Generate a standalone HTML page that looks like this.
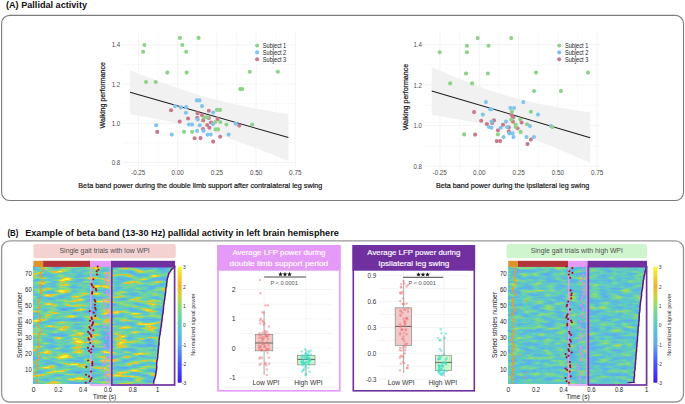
<!DOCTYPE html>
<html><head><meta charset="utf-8"><title>Pallidal activity figure</title>
<style>
html,body{margin:0;padding:0;background:#fff;}
body{width:685px;height:404px;overflow:hidden;}
svg{display:block;font-family:"Liberation Sans", sans-serif;}
</style></head><body>
<svg width="685" height="404" viewBox="0 0 685 404">
<text x="6" y="8.4" font-size="9.0" fill="#111" text-anchor="start" font-weight="700" textLength="81" lengthAdjust="spacingAndGlyphs" >(A) Pallidal activity</text>
<rect x="1.6" y="15.4" width="681.9" height="185.1" rx="8" ry="8" fill="none" stroke="#7c7c7c" stroke-width="1.1"/>
<path d="M158.10 31.8V167.5M197.30 31.8V167.5M236.50 31.8V167.5M275.70 31.8V167.5M122.3 142.90H297M122.3 103.70H297M122.3 64.50H297" stroke="#f3f3f3" stroke-width="0.5" fill="none"/>
<path d="M138.50 31.8V167.5M177.70 31.8V167.5M216.90 31.8V167.5M256.10 31.8V167.5M295.30 31.8V167.5M122.3 162.50H297M122.3 123.30H297M122.3 84.10H297M122.3 44.90H297" stroke="#ebebeb" stroke-width="0.6" fill="none"/>
<polygon points="130.0,70.3 135.3,72.4 140.6,74.5 145.8,76.6 151.1,78.6 156.4,80.6 161.7,82.6 167.0,84.5 172.2,86.3 177.5,88.1 182.8,89.9 188.1,91.6 193.4,93.3 198.6,94.9 203.9,96.4 209.2,97.9 214.5,99.3 219.8,100.6 225.0,101.9 230.3,103.2 235.6,104.4 240.9,105.5 246.2,106.6 251.4,107.7 256.7,108.7 262.0,109.7 267.3,110.6 272.6,111.5 277.8,112.4 283.1,113.3 288.4,114.1 288.4,161.1 283.1,158.9 277.8,156.7 272.6,154.6 267.3,152.5 262.0,150.4 256.7,148.3 251.4,146.3 246.2,144.4 240.9,142.4 235.6,140.6 230.3,138.7 225.0,136.9 219.8,135.2 214.5,133.6 209.2,131.9 203.9,130.4 198.6,128.9 193.4,127.5 188.1,126.1 182.8,124.8 177.5,123.5 172.2,122.3 167.0,121.1 161.7,120.0 156.4,118.9 151.1,117.9 145.8,116.9 140.6,115.9 135.3,115.0 130.0,114.1" fill="#f1f1f1"/>
<line x1="130" y1="92.2" x2="288.4" y2="137.6" stroke="#1c1c1c" stroke-width="1.05"/>
<g fill="#c77a8e"><circle cx="171" cy="110.2" r="2.05"/><circle cx="208.8" cy="110.7" r="2.05"/><circle cx="197.6" cy="113.3" r="2.05"/><circle cx="202" cy="115.1" r="2.05"/><circle cx="188.1" cy="118.5" r="2.05"/><circle cx="197.3" cy="117.9" r="2.05"/><circle cx="203.2" cy="120.4" r="2.05"/><circle cx="208.8" cy="117.9" r="2.05"/><circle cx="217.5" cy="119.1" r="2.05"/><circle cx="179.7" cy="121.6" r="2.05"/><circle cx="211" cy="122.5" r="2.05"/><circle cx="207.2" cy="125" r="2.05"/><circle cx="209.4" cy="127.8" r="2.05"/><circle cx="203" cy="129" r="2.05"/><circle cx="157.2" cy="131.9" r="2.05"/><circle cx="220.2" cy="136.7" r="2.05"/><circle cx="194.6" cy="138.3" r="2.05"/><circle cx="200.5" cy="138.1" r="2.05"/><circle cx="213.2" cy="141.6" r="2.05"/><circle cx="239.2" cy="125.6" r="2.05"/></g>
<g fill="#80c4ee"><circle cx="196.8" cy="100.4" r="2.05"/><circle cx="199.5" cy="100.4" r="2.05"/><circle cx="175" cy="106.1" r="2.05"/><circle cx="180.7" cy="107.4" r="2.05"/><circle cx="186.2" cy="107.1" r="2.05"/><circle cx="202" cy="106.1" r="2.05"/><circle cx="185.9" cy="112.7" r="2.05"/><circle cx="213.2" cy="112.6" r="2.05"/><circle cx="197.7" cy="119.5" r="2.05"/><circle cx="156.2" cy="125.2" r="2.05"/><circle cx="189" cy="124.5" r="2.05"/><circle cx="192.1" cy="124.5" r="2.05"/><circle cx="199.8" cy="125.2" r="2.05"/><circle cx="212.9" cy="124.1" r="2.05"/><circle cx="197.1" cy="130.9" r="2.05"/><circle cx="203.5" cy="130.9" r="2.05"/><circle cx="171.7" cy="134.6" r="2.05"/><circle cx="207.6" cy="134.6" r="2.05"/><circle cx="210.7" cy="134.6" r="2.05"/><circle cx="228.6" cy="134.6" r="2.05"/><circle cx="235.7" cy="123.7" r="2.05"/></g>
<g fill="#8fd08a"><circle cx="179.9" cy="37.9" r="2.05"/><circle cx="198.6" cy="37.9" r="2.05"/><circle cx="144.4" cy="45" r="2.05"/><circle cx="182.3" cy="45" r="2.05"/><circle cx="143.1" cy="51.8" r="2.05"/><circle cx="186.2" cy="51.8" r="2.05"/><circle cx="167.3" cy="72.6" r="2.05"/><circle cx="186.7" cy="72.6" r="2.05"/><circle cx="249.8" cy="71.8" r="2.05"/><circle cx="277.9" cy="71.8" r="2.05"/><circle cx="146" cy="82" r="2.05"/><circle cx="155.7" cy="82" r="2.05"/><circle cx="240.3" cy="89.1" r="2.05"/><circle cx="242.2" cy="89.1" r="2.05"/><circle cx="216.9" cy="109.9" r="2.05"/><circle cx="220" cy="109.9" r="2.05"/><circle cx="204.5" cy="117.4" r="2.05"/><circle cx="207.6" cy="117.4" r="2.05"/><circle cx="215.4" cy="122" r="2.05"/><circle cx="220.3" cy="122" r="2.05"/><circle cx="226.4" cy="124.5" r="2.05"/><circle cx="184" cy="131.7" r="2.05"/><circle cx="192.1" cy="131.7" r="2.05"/><circle cx="215.6" cy="129.4" r="2.05"/><circle cx="218.1" cy="129.4" r="2.05"/><circle cx="252.2" cy="124.5" r="2.05"/></g>
<text x="120.2" y="164.95" font-size="6.9" fill="#4d4d4d" text-anchor="end" textLength="8.5" lengthAdjust="spacingAndGlyphs" >0.8</text>
<text x="120.2" y="125.75" font-size="6.9" fill="#4d4d4d" text-anchor="end" textLength="8.5" lengthAdjust="spacingAndGlyphs" >1.0</text>
<text x="120.2" y="86.55000000000001" font-size="6.9" fill="#4d4d4d" text-anchor="end" textLength="8.5" lengthAdjust="spacingAndGlyphs" >1.2</text>
<text x="120.2" y="47.35000000000002" font-size="6.9" fill="#4d4d4d" text-anchor="end" textLength="8.5" lengthAdjust="spacingAndGlyphs" >1.4</text>
<text x="138.2" y="174.9" font-size="6.9" fill="#4d4d4d" text-anchor="middle" textLength="14.2" lengthAdjust="spacingAndGlyphs" >-0.25</text>
<text x="177.7" y="174.9" font-size="6.9" fill="#4d4d4d" text-anchor="middle" textLength="12.4" lengthAdjust="spacingAndGlyphs" >0.00</text>
<text x="216.89999999999998" y="174.9" font-size="6.9" fill="#4d4d4d" text-anchor="middle" textLength="12.4" lengthAdjust="spacingAndGlyphs" >0.25</text>
<text x="256.1" y="174.9" font-size="6.9" fill="#4d4d4d" text-anchor="middle" textLength="12.4" lengthAdjust="spacingAndGlyphs" >0.50</text>
<text x="295.3" y="174.9" font-size="6.9" fill="#4d4d4d" text-anchor="middle" textLength="12.4" lengthAdjust="spacingAndGlyphs" >0.75</text>
<text x="78.3" y="188.0" font-size="7.8" fill="#1a1a1a" text-anchor="start" stroke="#1a1a1a" stroke-width="0.22" textLength="244" lengthAdjust="spacingAndGlyphs" >Beta band power during the double limb support after contralateral leg swing</text>
<text x="104.8" y="95.2" font-size="7.1" fill="#1a1a1a" text-anchor="middle" stroke="#1a1a1a" stroke-width="0.22" textLength="66.4" lengthAdjust="spacingAndGlyphs" transform="rotate(-90 104.8 95.2)" >Walking performance</text>
<rect x="253.50000000000003" y="41.8" width="33.6" height="21" fill="#fff"/>
<circle cx="257.1" cy="45.5" r="2.05" fill="#8fd08a"/>
<text x="262.8" y="47.95" font-size="6.8" fill="#1a1a1a" text-anchor="start" textLength="23.4" lengthAdjust="spacingAndGlyphs" >Subject 1</text>
<circle cx="257.1" cy="52.4" r="2.05" fill="#80c4ee"/>
<text x="262.8" y="54.85" font-size="6.8" fill="#1a1a1a" text-anchor="start" textLength="23.4" lengthAdjust="spacingAndGlyphs" >Subject 2</text>
<circle cx="257.1" cy="59.3" r="2.05" fill="#c77a8e"/>
<text x="262.8" y="61.75" font-size="6.8" fill="#1a1a1a" text-anchor="start" textLength="23.4" lengthAdjust="spacingAndGlyphs" >Subject 3</text>
<path d="M459.65 31.8V171.5M498.95 31.8V171.5M538.25 31.8V171.5M577.55 31.8V171.5M423.5 145.85H600M423.5 105.35H600M423.5 64.85H600" stroke="#f3f3f3" stroke-width="0.5" fill="none"/>
<path d="M440.00 31.8V171.5M479.30 31.8V171.5M518.60 31.8V171.5M557.90 31.8V171.5M597.20 31.8V171.5M423.5 166.10H600M423.5 125.60H600M423.5 85.10H600M423.5 44.60H600" stroke="#ebebeb" stroke-width="0.6" fill="none"/>
<polygon points="431.7,67.0 437.0,69.3 442.3,71.6 447.6,73.9 452.8,76.1 458.1,78.3 463.4,80.4 468.7,82.5 474.0,84.5 479.2,86.5 484.5,88.4 489.8,90.2 495.1,92.0 500.4,93.7 505.7,95.3 511.0,96.8 516.2,98.3 521.5,99.7 526.8,101.0 532.1,102.2 537.4,103.4 542.7,104.5 547.9,105.6 553.2,106.6 558.5,107.5 563.8,108.5 569.1,109.3 574.4,110.1 579.6,110.9 584.9,111.7 590.2,112.4 590.2,163.0 584.9,160.6 579.6,158.2 574.4,155.9 569.1,153.6 563.8,151.4 558.5,149.2 553.2,147.0 547.9,144.9 542.7,142.8 537.4,140.8 532.1,138.9 526.8,137.0 521.5,135.2 516.2,133.5 511.0,131.9 505.7,130.3 500.4,128.8 495.1,127.4 489.8,126.0 484.5,124.7 479.2,123.5 474.0,122.4 468.7,121.3 463.4,120.3 458.1,119.3 452.8,118.4 447.6,117.5 442.3,116.6 437.0,115.8 431.7,115.0" fill="#f1f1f1"/>
<line x1="431.7" y1="91" x2="590.2" y2="137.7" stroke="#1c1c1c" stroke-width="1.05"/>
<g fill="#c77a8e"><circle cx="474.1" cy="112.1" r="2.05"/><circle cx="481.2" cy="120.8" r="2.05"/><circle cx="494" cy="120.4" r="2.05"/><circle cx="492.1" cy="122.9" r="2.05"/><circle cx="486.9" cy="124.1" r="2.05"/><circle cx="503" cy="124.7" r="2.05"/><circle cx="511.7" cy="115.1" r="2.05"/><circle cx="513.2" cy="117.3" r="2.05"/><circle cx="512.9" cy="121.6" r="2.05"/><circle cx="521.6" cy="122.5" r="2.05"/><circle cx="508.8" cy="127.4" r="2.05"/><circle cx="517.5" cy="128.2" r="2.05"/><circle cx="497.9" cy="130.3" r="2.05"/><circle cx="508.8" cy="131.5" r="2.05"/><circle cx="475.1" cy="134.6" r="2.05"/><circle cx="496.8" cy="141.1" r="2.05"/><circle cx="500.2" cy="141.1" r="2.05"/><circle cx="527.5" cy="144.1" r="2.05"/><circle cx="530.9" cy="139.6" r="2.05"/></g>
<g fill="#80c4ee"><circle cx="485.9" cy="102.1" r="2.05"/><circle cx="523.4" cy="102.1" r="2.05"/><circle cx="490.2" cy="109.2" r="2.05"/><circle cx="491.5" cy="109.2" r="2.05"/><circle cx="510.4" cy="108" r="2.05"/><circle cx="514.1" cy="108" r="2.05"/><circle cx="482.8" cy="114.6" r="2.05"/><circle cx="491.5" cy="121.6" r="2.05"/><circle cx="506" cy="121.6" r="2.05"/><circle cx="489" cy="127" r="2.05"/><circle cx="491.5" cy="127.8" r="2.05"/><circle cx="500.8" cy="127.8" r="2.05"/><circle cx="507.2" cy="127" r="2.05"/><circle cx="509.4" cy="133.4" r="2.05"/><circle cx="512.5" cy="133.4" r="2.05"/><circle cx="503.5" cy="137.1" r="2.05"/><circle cx="513.5" cy="137.1" r="2.05"/><circle cx="526.5" cy="137.1" r="2.05"/><circle cx="529.9" cy="126" r="2.05"/><circle cx="538" cy="114.6" r="2.05"/><circle cx="551" cy="126" r="2.05"/><circle cx="533.9" cy="137.1" r="2.05"/></g>
<g fill="#8fd08a"><circle cx="477.7" cy="38.1" r="2.05"/><circle cx="511.2" cy="38.1" r="2.05"/><circle cx="466.9" cy="45.7" r="2.05"/><circle cx="488.5" cy="45.7" r="2.05"/><circle cx="439.7" cy="52.2" r="2.05"/><circle cx="466.9" cy="52.2" r="2.05"/><circle cx="466" cy="73.5" r="2.05"/><circle cx="487.9" cy="73.5" r="2.05"/><circle cx="536" cy="72.6" r="2.05"/><circle cx="588" cy="72.6" r="2.05"/><circle cx="450.2" cy="83.4" r="2.05"/><circle cx="472.1" cy="83.4" r="2.05"/><circle cx="534" cy="91" r="2.05"/><circle cx="560.9" cy="91" r="2.05"/><circle cx="511.9" cy="111.5" r="2.05"/><circle cx="511.3" cy="119.5" r="2.05"/><circle cx="520.3" cy="119.5" r="2.05"/><circle cx="515.6" cy="124.5" r="2.05"/><circle cx="515.6" cy="127" r="2.05"/><circle cx="527" cy="124.2" r="2.05"/><circle cx="520.6" cy="131.9" r="2.05"/><circle cx="497.9" cy="134.4" r="2.05"/><circle cx="464.2" cy="134.4" r="2.05"/><circle cx="530.9" cy="111.7" r="2.05"/><circle cx="552.4" cy="127" r="2.05"/></g>
<text x="421.9" y="168.54999999999998" font-size="6.9" fill="#4d4d4d" text-anchor="end" textLength="8.5" lengthAdjust="spacingAndGlyphs" >0.8</text>
<text x="421.9" y="128.04999999999998" font-size="6.9" fill="#4d4d4d" text-anchor="end" textLength="8.5" lengthAdjust="spacingAndGlyphs" >1.0</text>
<text x="421.9" y="87.55" font-size="6.9" fill="#4d4d4d" text-anchor="end" textLength="8.5" lengthAdjust="spacingAndGlyphs" >1.2</text>
<text x="421.9" y="47.05000000000001" font-size="6.9" fill="#4d4d4d" text-anchor="end" textLength="8.5" lengthAdjust="spacingAndGlyphs" >1.4</text>
<text x="439.7" y="174.9" font-size="6.9" fill="#4d4d4d" text-anchor="middle" textLength="14.2" lengthAdjust="spacingAndGlyphs" >-0.25</text>
<text x="479.3" y="174.9" font-size="6.9" fill="#4d4d4d" text-anchor="middle" textLength="12.4" lengthAdjust="spacingAndGlyphs" >0.00</text>
<text x="518.6" y="174.9" font-size="6.9" fill="#4d4d4d" text-anchor="middle" textLength="12.4" lengthAdjust="spacingAndGlyphs" >0.25</text>
<text x="557.9" y="174.9" font-size="6.9" fill="#4d4d4d" text-anchor="middle" textLength="12.4" lengthAdjust="spacingAndGlyphs" >0.50</text>
<text x="597.2" y="174.9" font-size="6.9" fill="#4d4d4d" text-anchor="middle" textLength="12.4" lengthAdjust="spacingAndGlyphs" >0.75</text>
<text x="435.9" y="188.0" font-size="7.8" fill="#1a1a1a" text-anchor="start" stroke="#1a1a1a" stroke-width="0.22" textLength="153.3" lengthAdjust="spacingAndGlyphs" >Beta band power during the ipsilateral leg swing</text>
<text x="407.9" y="97.1" font-size="7.1" fill="#1a1a1a" text-anchor="middle" stroke="#1a1a1a" stroke-width="0.22" textLength="66.4" lengthAdjust="spacingAndGlyphs" transform="rotate(-90 407.9 97.1)" >Walking performance</text>
<rect x="555.6" y="41.8" width="33.6" height="21" fill="#fff"/>
<circle cx="559.2" cy="45.5" r="2.05" fill="#8fd08a"/>
<text x="564.9000000000001" y="47.95" font-size="6.8" fill="#1a1a1a" text-anchor="start" textLength="23.4" lengthAdjust="spacingAndGlyphs" >Subject 1</text>
<circle cx="559.2" cy="52.4" r="2.05" fill="#80c4ee"/>
<text x="564.9000000000001" y="54.85" font-size="6.8" fill="#1a1a1a" text-anchor="start" textLength="23.4" lengthAdjust="spacingAndGlyphs" >Subject 2</text>
<circle cx="559.2" cy="59.3" r="2.05" fill="#c77a8e"/>
<text x="564.9000000000001" y="61.75" font-size="6.8" fill="#1a1a1a" text-anchor="start" textLength="23.4" lengthAdjust="spacingAndGlyphs" >Subject 3</text>
<text x="7.4" y="235.5" font-size="8.6" fill="#111" text-anchor="start" font-weight="700" textLength="10.9" lengthAdjust="spacingAndGlyphs" >(B)</text>
<text x="25.2" y="235.5" font-size="8.6" fill="#111" text-anchor="start" font-weight="700" textLength="313.6" lengthAdjust="spacingAndGlyphs" >Example of beta band (13-30 Hz) pallidal activity in left brain hemisphere</text>
<rect x="1.6" y="240.9" width="681.9" height="161.1" rx="8" ry="8" fill="none" stroke="#989898" stroke-width="1.4"/>
<defs>
<filter id="hm1" x="0" y="0" width="1" height="1" color-interpolation-filters="sRGB"><feTurbulence type="fractalNoise" baseFrequency="0.07 0.27" numOctaves="2" seed="11"/><feColorMatrix type="matrix" values="1 0 0 0 0 1 0 0 0 0 1 0 0 0 0 0 0 0 0 1"/><feComponentTransfer><feFuncR type="table" tableValues="0.306 0.311 0.316 0.321 0.325 0.330 0.335 0.340 0.345 0.350 0.355 0.360 0.365 0.370 0.372 0.370 0.368 0.366 0.364 0.362 0.360 0.357 0.354 0.355 0.358 0.361 0.364 0.367 0.371 0.377 0.388 0.399 0.410 0.422 0.435 0.453 0.475 0.498 0.520 0.554 0.624 0.706 0.788 0.844 0.905 0.943 0.947 0.951 0.953 0.956 0.958 0.960 0.961 0.961 0.961 0.961 0.961 0.961 0.961 0.961 0.961 0.961 0.961 0.961 0.961"/><feFuncG type="table" tableValues="0.440 0.456 0.473 0.490 0.507 0.523 0.540 0.557 0.574 0.590 0.607 0.624 0.641 0.657 0.670 0.676 0.683 0.690 0.697 0.703 0.713 0.723 0.733 0.743 0.752 0.761 0.771 0.780 0.790 0.799 0.805 0.812 0.818 0.825 0.833 0.838 0.843 0.848 0.852 0.860 0.855 0.844 0.833 0.790 0.728 0.714 0.776 0.830 0.864 0.898 0.932 0.966 0.973 0.973 0.973 0.973 0.973 0.973 0.973 0.973 0.973 0.973 0.973 0.973 0.973"/><feFuncB type="table" tableValues="0.960 0.958 0.956 0.954 0.952 0.950 0.948 0.946 0.944 0.942 0.940 0.938 0.936 0.934 0.931 0.925 0.919 0.913 0.907 0.901 0.892 0.883 0.874 0.861 0.844 0.828 0.811 0.793 0.775 0.756 0.733 0.710 0.687 0.662 0.637 0.608 0.578 0.548 0.518 0.470 0.402 0.330 0.257 0.229 0.209 0.194 0.190 0.186 0.184 0.182 0.179 0.177 0.176 0.176 0.176 0.176 0.176 0.176 0.176 0.176 0.176 0.176 0.176 0.176 0.176"/></feComponentTransfer></filter>
<filter id="hm2" x="0" y="0" width="1" height="1" color-interpolation-filters="sRGB"><feTurbulence type="fractalNoise" baseFrequency="0.09 0.3" numOctaves="2" seed="23"/><feColorMatrix type="matrix" values="1 0 0 0 0 1 0 0 0 0 1 0 0 0 0 0 0 0 0 1"/><feComponentTransfer><feFuncR type="table" tableValues="0.341 0.344 0.347 0.350 0.354 0.357 0.360 0.363 0.366 0.369 0.372 0.372 0.370 0.369 0.368 0.367 0.366 0.365 0.363 0.362 0.360 0.358 0.357 0.355 0.353 0.355 0.357 0.360 0.362 0.364 0.366 0.368 0.370 0.372 0.380 0.389 0.397 0.405 0.413 0.421 0.430 0.439 0.455 0.471 0.487 0.503 0.520 0.538 0.557 0.583 0.619 0.655 0.698 0.742 0.786 0.819 0.845 0.871 0.897 0.923 0.942 0.944 0.945 0.947 0.949"/><feFuncG type="table" tableValues="0.560 0.571 0.581 0.592 0.602 0.613 0.623 0.633 0.644 0.654 0.665 0.670 0.674 0.679 0.683 0.687 0.691 0.696 0.700 0.704 0.710 0.717 0.724 0.731 0.738 0.744 0.751 0.757 0.763 0.770 0.776 0.782 0.789 0.796 0.801 0.806 0.810 0.815 0.820 0.825 0.830 0.835 0.839 0.842 0.845 0.849 0.852 0.856 0.860 0.861 0.856 0.851 0.846 0.840 0.834 0.815 0.789 0.762 0.736 0.709 0.698 0.724 0.751 0.777 0.803"/><feFuncB type="table" tableValues="0.946 0.945 0.943 0.942 0.941 0.940 0.938 0.937 0.936 0.935 0.934 0.930 0.926 0.923 0.919 0.915 0.911 0.908 0.904 0.900 0.894 0.888 0.882 0.876 0.869 0.858 0.846 0.835 0.823 0.812 0.801 0.789 0.778 0.765 0.748 0.732 0.715 0.698 0.681 0.665 0.647 0.628 0.606 0.584 0.562 0.540 0.518 0.492 0.466 0.438 0.406 0.375 0.337 0.298 0.259 0.238 0.229 0.220 0.211 0.202 0.196 0.194 0.192 0.190 0.188"/></feComponentTransfer></filter>
<linearGradient id="cb" x1="0" y1="1" x2="0" y2="0"><stop offset="0.0" stop-color="rgb(60, 30, 230)"/><stop offset="0.167" stop-color="rgb(70, 85, 248)"/><stop offset="0.333" stop-color="rgb(95, 170, 238)"/><stop offset="0.42" stop-color="rgb(90, 188, 222)"/><stop offset="0.5" stop-color="rgb(95, 203, 195)"/><stop offset="0.58" stop-color="rgb(112, 213, 160)"/><stop offset="0.667" stop-color="rgb(145, 220, 115)"/><stop offset="0.75" stop-color="rgb(205, 212, 62)"/><stop offset="0.833" stop-color="rgb(240, 176, 50)"/><stop offset="1.0" stop-color="rgb(245, 248, 45)"/></linearGradient>
</defs>
<rect x="33.4" y="244" width="142.4" height="14.2" rx="2.2" fill="#f4d2d2"/>
<text x="104.60000000000001" y="253.0" font-size="7.1" fill="#505050" text-anchor="middle" textLength="90.2" lengthAdjust="spacingAndGlyphs" >Single gait trials with low WPI</text>
<rect x="33.4" y="266.8" width="141.6" height="117.0" filter="url(#hm1)"/>
<rect x="33.4" y="260.8" width="9.7" height="6.1" fill="#e0922a"/>
<rect x="43.1" y="260.8" width="47.0" height="6.1" fill="#b3333b"/>
<rect x="90.1" y="260.8" width="20.9" height="6.1" fill="#e59af8"/>
<rect x="111.0" y="260.8" width="64.0" height="6.1" fill="#7030a0"/>
<path d="M174.6 266.8 L174.6 266.8 L172.67 268.4 L171.13 269.99 L170.21 271.59 L169.04 273.18 L168.42 274.78 L168.13 276.38 L167.51 277.97 L167.14 279.57 L166.96 281.16 L166.95 282.76 L166.5 284.35 L166.67 285.95 L166.01 287.55 L165.86 289.14 L165.6 290.74 L165.73 292.33 L165.31 293.93 L165.15 295.53 L164.85 297.12 L164.79 298.72 L164.46 300.31 L164.14 301.91 L164.03 303.51 L163.75 305.1 L163.44 306.7 L163.58 308.29 L163.31 309.89 L163.12 311.48 L163.04 313.08 L162.61 314.68 L162.41 316.27 L162.24 317.87 L162.05 319.46 L161.99 321.06 L161.47 322.66 L161.51 324.25 L161.32 325.85 L161.0 327.44 L160.61 329.04 L160.73 330.64 L160.15 332.23 L160.2 333.83 L159.77 335.42 L159.48 337.02 L159.32 338.62 L159.04 340.21 L158.91 341.81 L159.02 343.4 L158.88 345.0 L158.54 346.59 L158.53 348.19 L158.28 349.79 L158.13 351.38 L158.17 352.98 L157.73 354.57 L157.85 356.17 L157.6 357.77 L157.44 359.36 L156.94 360.96 L156.82 362.55 L156.64 364.15 L156.63 365.75 L156.78 367.34 L156.58 368.94 L156.4 370.53 L155.89 372.13 L155.9 373.72 L155.56 375.32 L155.19 376.92 L154.8 378.51 L154.09 380.11 L153.72 381.7 L153.65 383.3 L153.5 383.3 L153.2 383.0 L153.2 384.40000000000003 L175.0 384.40000000000003 L175.0 266.8 Z" fill="#fff"/>
<path d="M174.6 267.40000000000003 L174.6 266.8 L172.67 268.4 L171.13 269.99 L170.21 271.59 L169.04 273.18 L168.42 274.78 L168.13 276.38 L167.51 277.97 L167.14 279.57 L166.96 281.16 L166.95 282.76 L166.5 284.35 L166.67 285.95 L166.01 287.55 L165.86 289.14 L165.6 290.74 L165.73 292.33 L165.31 293.93 L165.15 295.53 L164.85 297.12 L164.79 298.72 L164.46 300.31 L164.14 301.91 L164.03 303.51 L163.75 305.1 L163.44 306.7 L163.58 308.29 L163.31 309.89 L163.12 311.48 L163.04 313.08 L162.61 314.68 L162.41 316.27 L162.24 317.87 L162.05 319.46 L161.99 321.06 L161.47 322.66 L161.51 324.25 L161.32 325.85 L161.0 327.44 L160.61 329.04 L160.73 330.64 L160.15 332.23 L160.2 333.83 L159.77 335.42 L159.48 337.02 L159.32 338.62 L159.04 340.21 L158.91 341.81 L159.02 343.4 L158.88 345.0 L158.54 346.59 L158.53 348.19 L158.28 349.79 L158.13 351.38 L158.17 352.98 L157.73 354.57 L157.85 356.17 L157.6 357.77 L157.44 359.36 L156.94 360.96 L156.82 362.55 L156.64 364.15 L156.63 365.75 L156.78 367.34 L156.58 368.94 L156.4 370.53 L155.89 372.13 L155.9 373.72 L155.56 375.32 L155.19 376.92 L154.8 378.51 L154.09 380.11 L153.72 381.7 L153.65 383.3 L153.5 383.3" fill="none" stroke="#58157e" stroke-width="1.5"/>
<path d="M153.5 383.3 L153.2 382.90000000000003" fill="none" stroke="#4a1070" stroke-width="1.1"/>
<g fill="#f09a2c"><circle cx="37.7" cy="383.1" r="0.95"/><circle cx="37.2" cy="381.2" r="0.95"/><circle cx="36.0" cy="379.8" r="0.95"/><circle cx="36.3" cy="376.4" r="0.95"/><circle cx="35.7" cy="373.4" r="0.95"/><circle cx="36.1" cy="372.0" r="0.95"/><circle cx="37.7" cy="368.8" r="0.95"/><circle cx="36.5" cy="366.8" r="0.95"/><circle cx="36.8" cy="365.2" r="0.95"/><circle cx="35.8" cy="363.5" r="0.95"/><circle cx="35.4" cy="361.9" r="0.95"/><circle cx="37.4" cy="360.5" r="0.95"/><circle cx="38.8" cy="359.3" r="0.95"/><circle cx="39.1" cy="357.2" r="0.95"/><circle cx="38.5" cy="356.1" r="0.95"/><circle cx="37.8" cy="354.3" r="0.95"/><circle cx="38.3" cy="352.8" r="0.95"/><circle cx="36.1" cy="351.0" r="0.95"/><circle cx="37.1" cy="349.6" r="0.95"/><circle cx="38.5" cy="347.8" r="0.95"/><circle cx="38.8" cy="346.1" r="0.95"/><circle cx="39.5" cy="344.8" r="0.95"/><circle cx="38.4" cy="343.0" r="0.95"/><circle cx="38.5" cy="340.2" r="0.95"/><circle cx="38.0" cy="337.9" r="0.95"/><circle cx="38.3" cy="336.8" r="0.95"/><circle cx="39.1" cy="334.8" r="0.95"/><circle cx="39.8" cy="333.5" r="0.95"/><circle cx="41.4" cy="331.9" r="0.95"/><circle cx="40.4" cy="328.9" r="0.95"/><circle cx="38.9" cy="327.3" r="0.95"/><circle cx="37.5" cy="325.4" r="0.95"/><circle cx="38.1" cy="323.9" r="0.95"/><circle cx="39.2" cy="322.3" r="0.95"/><circle cx="40.5" cy="320.7" r="0.95"/><circle cx="39.5" cy="319.0" r="0.95"/><circle cx="40.4" cy="317.2" r="0.95"/><circle cx="40.1" cy="316.1" r="0.95"/><circle cx="39.5" cy="314.1" r="0.95"/><circle cx="37.4" cy="312.4" r="0.95"/><circle cx="38.7" cy="309.3" r="0.95"/><circle cx="39.3" cy="307.8" r="0.95"/><circle cx="39.8" cy="306.4" r="0.95"/><circle cx="40.0" cy="304.9" r="0.95"/><circle cx="38.5" cy="303.1" r="0.95"/><circle cx="38.3" cy="301.5" r="0.95"/><circle cx="39.0" cy="300.3" r="0.95"/><circle cx="40.3" cy="298.5" r="0.95"/><circle cx="40.8" cy="293.8" r="0.95"/><circle cx="41.4" cy="292.1" r="0.95"/><circle cx="41.3" cy="290.8" r="0.95"/><circle cx="40.5" cy="288.6" r="0.95"/><circle cx="39.8" cy="287.3" r="0.95"/><circle cx="40.3" cy="285.3" r="0.95"/><circle cx="41.1" cy="284.3" r="0.95"/><circle cx="43.2" cy="282.3" r="0.95"/><circle cx="41.8" cy="280.8" r="0.95"/><circle cx="41.9" cy="277.3" r="0.95"/><circle cx="40.0" cy="276.1" r="0.95"/><circle cx="41.2" cy="274.9" r="0.95"/><circle cx="41.1" cy="272.8" r="0.95"/><circle cx="42.1" cy="271.4" r="0.95"/><circle cx="43.2" cy="269.4" r="0.95"/><circle cx="42.5" cy="268.1" r="0.95"/><circle cx="41.2" cy="266.8" r="0.95"/></g>
<g fill="#f082f2"><circle cx="107.3" cy="381.2" r="0.95"/><circle cx="105.4" cy="379.6" r="0.95"/><circle cx="107.5" cy="376.4" r="0.95"/><circle cx="105.5" cy="374.8" r="0.95"/><circle cx="106.3" cy="373.2" r="0.95"/><circle cx="106.9" cy="371.6" r="0.95"/><circle cx="102.7" cy="368.5" r="0.95"/><circle cx="103.0" cy="365.3" r="0.95"/><circle cx="104.7" cy="363.7" r="0.95"/><circle cx="104.3" cy="362.1" r="0.95"/><circle cx="104.5" cy="360.5" r="0.95"/><circle cx="106.2" cy="358.9" r="0.95"/><circle cx="107.6" cy="357.3" r="0.95"/><circle cx="105.1" cy="354.1" r="0.95"/><circle cx="106.4" cy="349.3" r="0.95"/><circle cx="104.3" cy="347.8" r="0.95"/><circle cx="105.5" cy="346.2" r="0.95"/><circle cx="104.5" cy="344.6" r="0.95"/><circle cx="105.8" cy="338.2" r="0.95"/><circle cx="106.0" cy="336.6" r="0.95"/><circle cx="108.0" cy="333.4" r="0.95"/><circle cx="105.2" cy="330.2" r="0.95"/><circle cx="104.1" cy="327.0" r="0.95"/><circle cx="104.6" cy="323.9" r="0.95"/><circle cx="104.2" cy="317.5" r="0.95"/><circle cx="105.7" cy="315.9" r="0.95"/><circle cx="108.2" cy="314.3" r="0.95"/><circle cx="106.0" cy="309.5" r="0.95"/><circle cx="105.5" cy="307.9" r="0.95"/><circle cx="105.6" cy="304.7" r="0.95"/><circle cx="105.7" cy="303.1" r="0.95"/><circle cx="103.9" cy="301.6" r="0.95"/><circle cx="107.0" cy="300.0" r="0.95"/><circle cx="104.0" cy="298.4" r="0.95"/><circle cx="107.9" cy="295.2" r="0.95"/><circle cx="107.5" cy="293.6" r="0.95"/><circle cx="106.5" cy="292.0" r="0.95"/><circle cx="107.1" cy="290.4" r="0.95"/><circle cx="107.2" cy="284.0" r="0.95"/><circle cx="107.5" cy="282.4" r="0.95"/><circle cx="106.1" cy="280.8" r="0.95"/><circle cx="105.5" cy="279.3" r="0.95"/><circle cx="107.2" cy="277.7" r="0.95"/><circle cx="105.4" cy="276.1" r="0.95"/><circle cx="106.6" cy="274.5" r="0.95"/><circle cx="107.2" cy="272.9" r="0.95"/></g>
<path d="M90.8 266.8 V385.0 H110.3 V266.8" fill="none" stroke="#e59af8" stroke-width="1.4"/>
<rect x="111.8" y="266.6" width="62.8" height="118.4" fill="none" stroke="#7030a0" stroke-width="1.7"/>
<g fill="#a0101a"><circle cx="85.7" cy="382.8" r="1.05"/><circle cx="89.9" cy="381.2" r="1.05"/><circle cx="91.0" cy="379.6" r="1.05"/><circle cx="91.6" cy="378.0" r="1.05"/><circle cx="89.0" cy="376.4" r="1.05"/><circle cx="86.0" cy="374.8" r="1.05"/><circle cx="91.1" cy="371.6" r="1.05"/><circle cx="86.4" cy="366.9" r="1.05"/><circle cx="92.3" cy="365.3" r="1.05"/><circle cx="92.2" cy="363.7" r="1.05"/><circle cx="92.4" cy="362.1" r="1.05"/><circle cx="88.1" cy="360.5" r="1.05"/><circle cx="91.0" cy="352.5" r="1.05"/><circle cx="89.2" cy="350.9" r="1.05"/><circle cx="91.3" cy="349.3" r="1.05"/><circle cx="88.0" cy="347.8" r="1.05"/><circle cx="93.2" cy="346.2" r="1.05"/><circle cx="90.2" cy="343.0" r="1.05"/><circle cx="89.3" cy="339.8" r="1.05"/><circle cx="88.4" cy="338.2" r="1.05"/><circle cx="91.4" cy="336.6" r="1.05"/><circle cx="91.0" cy="335.0" r="1.05"/><circle cx="89.6" cy="333.4" r="1.05"/><circle cx="88.1" cy="331.8" r="1.05"/><circle cx="93.3" cy="330.2" r="1.05"/><circle cx="90.4" cy="328.6" r="1.05"/><circle cx="89.4" cy="327.0" r="1.05"/><circle cx="91.7" cy="325.5" r="1.05"/><circle cx="92.7" cy="323.9" r="1.05"/><circle cx="93.1" cy="322.3" r="1.05"/><circle cx="90.0" cy="320.7" r="1.05"/><circle cx="91.9" cy="319.1" r="1.05"/><circle cx="91.6" cy="317.5" r="1.05"/><circle cx="95.3" cy="315.9" r="1.05"/><circle cx="93.8" cy="312.7" r="1.05"/><circle cx="89.8" cy="311.1" r="1.05"/><circle cx="95.8" cy="309.5" r="1.05"/><circle cx="95.1" cy="307.9" r="1.05"/><circle cx="94.9" cy="304.7" r="1.05"/><circle cx="95.3" cy="301.6" r="1.05"/><circle cx="94.7" cy="300.0" r="1.05"/><circle cx="92.0" cy="293.6" r="1.05"/><circle cx="92.3" cy="292.0" r="1.05"/><circle cx="96.3" cy="290.4" r="1.05"/><circle cx="95.8" cy="288.8" r="1.05"/><circle cx="93.5" cy="287.2" r="1.05"/><circle cx="92.2" cy="285.6" r="1.05"/><circle cx="91.4" cy="284.0" r="1.05"/><circle cx="93.3" cy="279.3" r="1.05"/><circle cx="97.1" cy="274.5" r="1.05"/><circle cx="96.7" cy="271.3" r="1.05"/><circle cx="98.4" cy="269.7" r="1.05"/><circle cx="97.7" cy="266.5" r="1.05"/></g>
<rect x="177.7" y="266.7" width="4" height="116" fill="url(#cb)"/>
<text x="183.1" y="269.45" font-size="4.9" fill="#333" text-anchor="start" >3</text>
<text x="183.1" y="288.75" font-size="4.9" fill="#333" text-anchor="start" >2</text>
<text x="183.1" y="308.05" font-size="4.9" fill="#333" text-anchor="start" >1</text>
<text x="183.1" y="327.35" font-size="4.9" fill="#333" text-anchor="start" >0</text>
<text x="181.89999999999998" y="346.65" font-size="4.9" fill="#333" text-anchor="start" >-1</text>
<text x="181.89999999999998" y="365.95" font-size="4.9" fill="#333" text-anchor="start" >-2</text>
<text x="181.89999999999998" y="385.25" font-size="4.9" fill="#333" text-anchor="start" >-3</text>
<text x="194.89999999999998" y="324.5" font-size="5.4" fill="#333" text-anchor="middle" textLength="62.5" lengthAdjust="spacingAndGlyphs" transform="rotate(-90 194.89999999999998 324.5)" >Normalized signal power</text>
<text x="31.799999999999997" y="371.85" font-size="6.7" fill="#222" text-anchor="end" textLength="6.7" lengthAdjust="spacingAndGlyphs" >10</text>
<text x="31.799999999999997" y="355.87" font-size="6.7" fill="#222" text-anchor="end" textLength="6.7" lengthAdjust="spacingAndGlyphs" >20</text>
<text x="31.799999999999997" y="339.89000000000004" font-size="6.7" fill="#222" text-anchor="end" textLength="6.7" lengthAdjust="spacingAndGlyphs" >30</text>
<text x="31.799999999999997" y="323.91" font-size="6.7" fill="#222" text-anchor="end" textLength="6.7" lengthAdjust="spacingAndGlyphs" >40</text>
<text x="31.799999999999997" y="307.93" font-size="6.7" fill="#222" text-anchor="end" textLength="6.7" lengthAdjust="spacingAndGlyphs" >50</text>
<text x="31.799999999999997" y="291.95000000000005" font-size="6.7" fill="#222" text-anchor="end" textLength="6.7" lengthAdjust="spacingAndGlyphs" >60</text>
<text x="31.799999999999997" y="275.97" font-size="6.7" fill="#222" text-anchor="end" textLength="6.7" lengthAdjust="spacingAndGlyphs" >70</text>
<text x="21.7" y="325" font-size="6.8" fill="#222" text-anchor="middle" textLength="66" lengthAdjust="spacingAndGlyphs" transform="rotate(-90 21.7 325)" >Sorted strides number</text>
<text x="33.6" y="391.9" font-size="6.7" fill="#222" text-anchor="middle" >0</text>
<text x="58.400000000000006" y="391.9" font-size="6.7" fill="#222" text-anchor="middle" textLength="8.2" lengthAdjust="spacingAndGlyphs" >0.2</text>
<text x="83.2" y="391.9" font-size="6.7" fill="#222" text-anchor="middle" textLength="8.2" lengthAdjust="spacingAndGlyphs" >0.4</text>
<text x="108.0" y="391.9" font-size="6.7" fill="#222" text-anchor="middle" textLength="8.2" lengthAdjust="spacingAndGlyphs" >0.6</text>
<text x="132.8" y="391.9" font-size="6.7" fill="#222" text-anchor="middle" textLength="8.2" lengthAdjust="spacingAndGlyphs" >0.8</text>
<text x="157.6" y="391.9" font-size="6.7" fill="#222" text-anchor="middle" >1</text>
<rect x="506.5" y="244" width="140.6" height="14.2" rx="2.2" fill="#cff5cf"/>
<text x="576.8" y="253.0" font-size="7.1" fill="#505050" text-anchor="middle" textLength="92.1" lengthAdjust="spacingAndGlyphs" >Single gait trials with high WPI</text>
<rect x="508.2" y="266.8" width="138.8" height="117.0" filter="url(#hm2)"/>
<rect x="508.2" y="260.8" width="9.7" height="6.1" fill="#e0922a"/>
<rect x="517.9" y="260.8" width="50.1" height="6.1" fill="#b3333b"/>
<rect x="568.0" y="260.8" width="19.5" height="6.1" fill="#e59af8"/>
<rect x="587.5" y="260.8" width="59.5" height="6.1" fill="#7030a0"/>
<path d="M646.6 266.8 L646.6 266.8 L645.92 268.38 L645.74 269.97 L645.1 271.55 L644.96 273.13 L644.49 274.72 L644.04 276.3 L643.93 277.88 L643.68 279.47 L643.19 281.05 L643.2 282.64 L643.02 284.22 L642.74 285.8 L642.69 287.39 L642.39 288.97 L642.01 290.55 L641.73 292.14 L641.48 293.72 L641.62 295.3 L641.36 296.89 L641.12 298.47 L640.83 300.05 L640.66 301.64 L640.32 303.22 L640.28 304.81 L639.93 306.39 L640.04 307.97 L639.92 309.56 L639.81 311.14 L639.47 312.72 L639.26 314.31 L639.25 315.89 L639.3 317.47 L639.08 319.06 L639.07 320.64 L638.77 322.22 L638.62 323.81 L638.74 325.39 L638.23 326.98 L638.11 328.56 L638.17 330.14 L638.05 331.73 L637.81 333.31 L637.74 334.89 L637.54 336.48 L637.52 338.06 L637.49 339.64 L637.32 341.23 L637.09 342.81 L636.87 344.39 L636.97 345.98 L636.58 347.56 L636.54 349.15 L636.53 350.73 L636.31 352.31 L636.03 353.9 L636.08 355.48 L635.88 357.06 L635.91 358.65 L635.64 360.23 L635.47 361.81 L635.56 363.4 L635.21 364.98 L635.02 366.56 L635.16 368.15 L635.04 369.73 L634.53 371.32 L634.35 372.9 L634.61 374.48 L634.5 376.07 L634.12 377.65 L633.93 379.23 L634.02 380.82 L634.02 382.4 L633.8 382.4 L627.6 383.0 L627.6 384.40000000000003 L647.0 384.40000000000003 L647.0 266.8 Z" fill="#fff"/>
<path d="M646.6 267.40000000000003 L646.6 266.8 L645.92 268.38 L645.74 269.97 L645.1 271.55 L644.96 273.13 L644.49 274.72 L644.04 276.3 L643.93 277.88 L643.68 279.47 L643.19 281.05 L643.2 282.64 L643.02 284.22 L642.74 285.8 L642.69 287.39 L642.39 288.97 L642.01 290.55 L641.73 292.14 L641.48 293.72 L641.62 295.3 L641.36 296.89 L641.12 298.47 L640.83 300.05 L640.66 301.64 L640.32 303.22 L640.28 304.81 L639.93 306.39 L640.04 307.97 L639.92 309.56 L639.81 311.14 L639.47 312.72 L639.26 314.31 L639.25 315.89 L639.3 317.47 L639.08 319.06 L639.07 320.64 L638.77 322.22 L638.62 323.81 L638.74 325.39 L638.23 326.98 L638.11 328.56 L638.17 330.14 L638.05 331.73 L637.81 333.31 L637.74 334.89 L637.54 336.48 L637.52 338.06 L637.49 339.64 L637.32 341.23 L637.09 342.81 L636.87 344.39 L636.97 345.98 L636.58 347.56 L636.54 349.15 L636.53 350.73 L636.31 352.31 L636.03 353.9 L636.08 355.48 L635.88 357.06 L635.91 358.65 L635.64 360.23 L635.47 361.81 L635.56 363.4 L635.21 364.98 L635.02 366.56 L635.16 368.15 L635.04 369.73 L634.53 371.32 L634.35 372.9 L634.61 374.48 L634.5 376.07 L634.12 377.65 L633.93 379.23 L634.02 380.82 L634.02 382.4 L633.8 382.4" fill="none" stroke="#58157e" stroke-width="1.5"/>
<path d="M633.8 382.4 L627.6 382.90000000000003" fill="none" stroke="#4a1070" stroke-width="1.1"/>
<g fill="#f09a2c"><circle cx="512.4" cy="383.2" r="0.95"/><circle cx="512.5" cy="379.8" r="0.95"/><circle cx="511.9" cy="378.1" r="0.95"/><circle cx="511.6" cy="376.2" r="0.95"/><circle cx="513.4" cy="375.0" r="0.95"/><circle cx="513.0" cy="373.3" r="0.95"/><circle cx="512.6" cy="371.3" r="0.95"/><circle cx="513.3" cy="369.9" r="0.95"/><circle cx="513.0" cy="368.5" r="0.95"/><circle cx="511.8" cy="366.5" r="0.95"/><circle cx="512.8" cy="365.3" r="0.95"/><circle cx="512.8" cy="363.4" r="0.95"/><circle cx="513.5" cy="362.3" r="0.95"/><circle cx="513.0" cy="360.7" r="0.95"/><circle cx="513.0" cy="359.3" r="0.95"/><circle cx="513.5" cy="357.5" r="0.95"/><circle cx="513.9" cy="355.7" r="0.95"/><circle cx="511.9" cy="354.4" r="0.95"/><circle cx="511.8" cy="352.9" r="0.95"/><circle cx="512.6" cy="351.3" r="0.95"/><circle cx="512.5" cy="349.1" r="0.95"/><circle cx="514.5" cy="347.5" r="0.95"/><circle cx="513.5" cy="346.5" r="0.95"/><circle cx="513.7" cy="344.7" r="0.95"/><circle cx="513.1" cy="343.1" r="0.95"/><circle cx="512.3" cy="341.1" r="0.95"/><circle cx="511.1" cy="339.9" r="0.95"/><circle cx="513.3" cy="338.4" r="0.95"/><circle cx="512.2" cy="336.8" r="0.95"/><circle cx="513.3" cy="334.8" r="0.95"/><circle cx="514.2" cy="333.1" r="0.95"/><circle cx="513.2" cy="331.6" r="0.95"/><circle cx="513.6" cy="330.2" r="0.95"/><circle cx="512.7" cy="326.8" r="0.95"/><circle cx="514.1" cy="323.5" r="0.95"/><circle cx="513.7" cy="320.9" r="0.95"/><circle cx="513.8" cy="319.2" r="0.95"/><circle cx="511.7" cy="315.6" r="0.95"/><circle cx="513.2" cy="314.4" r="0.95"/><circle cx="512.2" cy="312.6" r="0.95"/><circle cx="514.5" cy="311.3" r="0.95"/><circle cx="515.4" cy="309.7" r="0.95"/><circle cx="514.1" cy="307.9" r="0.95"/><circle cx="513.4" cy="306.2" r="0.95"/><circle cx="512.7" cy="305.0" r="0.95"/><circle cx="513.0" cy="303.1" r="0.95"/><circle cx="512.5" cy="301.9" r="0.95"/><circle cx="512.6" cy="299.9" r="0.95"/><circle cx="513.5" cy="298.1" r="0.95"/><circle cx="515.4" cy="294.9" r="0.95"/><circle cx="515.5" cy="294.0" r="0.95"/><circle cx="513.7" cy="291.8" r="0.95"/><circle cx="513.6" cy="290.5" r="0.95"/><circle cx="512.9" cy="289.0" r="0.95"/><circle cx="513.0" cy="287.2" r="0.95"/><circle cx="516.0" cy="283.7" r="0.95"/><circle cx="514.7" cy="282.1" r="0.95"/><circle cx="514.8" cy="280.6" r="0.95"/><circle cx="514.4" cy="279.1" r="0.95"/><circle cx="514.7" cy="278.0" r="0.95"/><circle cx="513.9" cy="276.0" r="0.95"/><circle cx="514.5" cy="274.1" r="0.95"/><circle cx="514.5" cy="272.6" r="0.95"/><circle cx="515.9" cy="271.2" r="0.95"/><circle cx="515.2" cy="269.8" r="0.95"/><circle cx="514.0" cy="268.0" r="0.95"/><circle cx="513.9" cy="266.2" r="0.95"/><circle cx="526.5" cy="300.7" r="0.95"/><circle cx="519.5" cy="354.8" r="0.95"/><circle cx="526.0" cy="372.6" r="0.95"/><circle cx="524.4" cy="377.4" r="0.95"/></g>
<g fill="#f082f2"><circle cx="580.1" cy="382.8" r="0.95"/><circle cx="580.2" cy="379.6" r="0.95"/><circle cx="579.8" cy="378.0" r="0.95"/><circle cx="579.3" cy="376.4" r="0.95"/><circle cx="581.8" cy="373.2" r="0.95"/><circle cx="578.2" cy="370.1" r="0.95"/><circle cx="578.5" cy="368.5" r="0.95"/><circle cx="579.6" cy="366.9" r="0.95"/><circle cx="577.4" cy="365.3" r="0.95"/><circle cx="580.6" cy="360.5" r="0.95"/><circle cx="581.3" cy="358.9" r="0.95"/><circle cx="582.3" cy="355.7" r="0.95"/><circle cx="581.3" cy="354.1" r="0.95"/><circle cx="581.0" cy="352.5" r="0.95"/><circle cx="579.9" cy="350.9" r="0.95"/><circle cx="580.2" cy="349.3" r="0.95"/><circle cx="580.9" cy="347.8" r="0.95"/><circle cx="580.6" cy="346.2" r="0.95"/><circle cx="578.7" cy="341.4" r="0.95"/><circle cx="580.7" cy="339.8" r="0.95"/><circle cx="580.9" cy="338.2" r="0.95"/><circle cx="579.8" cy="336.6" r="0.95"/><circle cx="583.5" cy="335.0" r="0.95"/><circle cx="580.5" cy="331.8" r="0.95"/><circle cx="583.3" cy="328.6" r="0.95"/><circle cx="579.8" cy="327.0" r="0.95"/><circle cx="580.9" cy="322.3" r="0.95"/><circle cx="580.4" cy="320.7" r="0.95"/><circle cx="582.8" cy="317.5" r="0.95"/><circle cx="580.3" cy="315.9" r="0.95"/><circle cx="583.1" cy="314.3" r="0.95"/><circle cx="583.0" cy="311.1" r="0.95"/><circle cx="582.8" cy="309.5" r="0.95"/><circle cx="584.0" cy="307.9" r="0.95"/><circle cx="581.4" cy="306.3" r="0.95"/><circle cx="580.5" cy="304.7" r="0.95"/><circle cx="583.1" cy="303.1" r="0.95"/><circle cx="581.3" cy="300.0" r="0.95"/><circle cx="582.2" cy="298.4" r="0.95"/><circle cx="582.4" cy="296.8" r="0.95"/><circle cx="583.9" cy="295.2" r="0.95"/><circle cx="583.7" cy="293.6" r="0.95"/><circle cx="584.3" cy="292.0" r="0.95"/><circle cx="582.8" cy="290.4" r="0.95"/><circle cx="583.7" cy="288.8" r="0.95"/><circle cx="585.8" cy="287.2" r="0.95"/><circle cx="582.1" cy="285.6" r="0.95"/><circle cx="584.2" cy="284.0" r="0.95"/><circle cx="583.5" cy="282.4" r="0.95"/><circle cx="580.7" cy="280.8" r="0.95"/><circle cx="583.0" cy="279.3" r="0.95"/><circle cx="583.4" cy="277.7" r="0.95"/><circle cx="580.6" cy="276.1" r="0.95"/><circle cx="583.4" cy="274.5" r="0.95"/><circle cx="583.8" cy="271.3" r="0.95"/><circle cx="583.2" cy="268.1" r="0.95"/><circle cx="584.5" cy="266.5" r="0.95"/></g>
<path d="M568.7 266.8 V385.0 H586.8 V266.8" fill="none" stroke="#e59af8" stroke-width="1.4"/>
<rect x="588.3" y="266.6" width="58.3" height="118.4" fill="none" stroke="#7030a0" stroke-width="1.7"/>
<g fill="#a0101a"><circle cx="568.9" cy="382.8" r="1.05"/><circle cx="566.6" cy="381.2" r="1.05"/><circle cx="565.4" cy="378.0" r="1.05"/><circle cx="570.7" cy="376.4" r="1.05"/><circle cx="569.7" cy="371.6" r="1.05"/><circle cx="567.1" cy="370.1" r="1.05"/><circle cx="565.6" cy="368.5" r="1.05"/><circle cx="570.3" cy="366.9" r="1.05"/><circle cx="570.2" cy="365.3" r="1.05"/><circle cx="569.8" cy="362.1" r="1.05"/><circle cx="566.5" cy="357.3" r="1.05"/><circle cx="568.5" cy="355.7" r="1.05"/><circle cx="565.6" cy="354.1" r="1.05"/><circle cx="571.7" cy="352.5" r="1.05"/><circle cx="569.0" cy="350.9" r="1.05"/><circle cx="568.4" cy="349.3" r="1.05"/><circle cx="569.7" cy="346.2" r="1.05"/><circle cx="569.1" cy="344.6" r="1.05"/><circle cx="570.9" cy="341.4" r="1.05"/><circle cx="569.8" cy="339.8" r="1.05"/><circle cx="571.1" cy="335.0" r="1.05"/><circle cx="569.7" cy="333.4" r="1.05"/><circle cx="569.1" cy="331.8" r="1.05"/><circle cx="567.2" cy="325.5" r="1.05"/><circle cx="567.3" cy="323.9" r="1.05"/><circle cx="571.9" cy="322.3" r="1.05"/><circle cx="571.0" cy="320.7" r="1.05"/><circle cx="568.1" cy="319.1" r="1.05"/><circle cx="566.3" cy="317.5" r="1.05"/><circle cx="566.9" cy="315.9" r="1.05"/><circle cx="567.7" cy="314.3" r="1.05"/><circle cx="570.0" cy="309.5" r="1.05"/><circle cx="566.6" cy="306.3" r="1.05"/><circle cx="567.2" cy="304.7" r="1.05"/><circle cx="568.3" cy="301.6" r="1.05"/><circle cx="571.2" cy="298.4" r="1.05"/><circle cx="571.3" cy="295.2" r="1.05"/><circle cx="571.7" cy="293.6" r="1.05"/><circle cx="570.5" cy="290.4" r="1.05"/><circle cx="570.2" cy="277.7" r="1.05"/><circle cx="568.8" cy="274.5" r="1.05"/><circle cx="572.4" cy="272.9" r="1.05"/><circle cx="569.3" cy="271.3" r="1.05"/><circle cx="572.4" cy="268.1" r="1.05"/><circle cx="566.5" cy="266.5" r="1.05"/></g>
<rect x="653.4" y="266.7" width="4" height="116" fill="url(#cb)"/>
<text x="658.8" y="269.45" font-size="4.9" fill="#333" text-anchor="start" >3</text>
<text x="658.8" y="288.75" font-size="4.9" fill="#333" text-anchor="start" >2</text>
<text x="658.8" y="308.05" font-size="4.9" fill="#333" text-anchor="start" >1</text>
<text x="658.8" y="327.35" font-size="4.9" fill="#333" text-anchor="start" >0</text>
<text x="657.6" y="346.65" font-size="4.9" fill="#333" text-anchor="start" >-1</text>
<text x="657.6" y="365.95" font-size="4.9" fill="#333" text-anchor="start" >-2</text>
<text x="657.6" y="385.25" font-size="4.9" fill="#333" text-anchor="start" >-3</text>
<text x="670.6" y="324.5" font-size="5.4" fill="#333" text-anchor="middle" textLength="62.5" lengthAdjust="spacingAndGlyphs" transform="rotate(-90 670.6 324.5)" >Normalized signal power</text>
<text x="506.59999999999997" y="371.85" font-size="6.7" fill="#222" text-anchor="end" textLength="6.7" lengthAdjust="spacingAndGlyphs" >10</text>
<text x="506.59999999999997" y="355.87" font-size="6.7" fill="#222" text-anchor="end" textLength="6.7" lengthAdjust="spacingAndGlyphs" >20</text>
<text x="506.59999999999997" y="339.89000000000004" font-size="6.7" fill="#222" text-anchor="end" textLength="6.7" lengthAdjust="spacingAndGlyphs" >30</text>
<text x="506.59999999999997" y="323.91" font-size="6.7" fill="#222" text-anchor="end" textLength="6.7" lengthAdjust="spacingAndGlyphs" >40</text>
<text x="506.59999999999997" y="307.93" font-size="6.7" fill="#222" text-anchor="end" textLength="6.7" lengthAdjust="spacingAndGlyphs" >50</text>
<text x="506.59999999999997" y="291.95000000000005" font-size="6.7" fill="#222" text-anchor="end" textLength="6.7" lengthAdjust="spacingAndGlyphs" >60</text>
<text x="506.59999999999997" y="275.97" font-size="6.7" fill="#222" text-anchor="end" textLength="6.7" lengthAdjust="spacingAndGlyphs" >70</text>
<text x="496.5" y="325" font-size="6.8" fill="#222" text-anchor="middle" textLength="66" lengthAdjust="spacingAndGlyphs" transform="rotate(-90 496.5 325)" >Sorted strides number</text>
<text x="508.4" y="391.9" font-size="6.7" fill="#222" text-anchor="middle" >0</text>
<text x="536.06" y="391.9" font-size="6.7" fill="#222" text-anchor="middle" textLength="8.2" lengthAdjust="spacingAndGlyphs" >0.2</text>
<text x="563.72" y="391.9" font-size="6.7" fill="#222" text-anchor="middle" textLength="8.2" lengthAdjust="spacingAndGlyphs" >0.4</text>
<text x="591.38" y="391.9" font-size="6.7" fill="#222" text-anchor="middle" textLength="8.2" lengthAdjust="spacingAndGlyphs" >0.6</text>
<text x="619.04" y="391.9" font-size="6.7" fill="#222" text-anchor="middle" textLength="8.2" lengthAdjust="spacingAndGlyphs" >0.8</text>
<text x="646.7" y="391.9" font-size="6.7" fill="#222" text-anchor="middle" >1</text>
<text x="104.5" y="398.8" font-size="6.8" fill="#222" text-anchor="middle" textLength="23.4" lengthAdjust="spacingAndGlyphs" >Time (s)</text>
<text x="577.9" y="398.8" font-size="6.8" fill="#222" text-anchor="middle" textLength="23.4" lengthAdjust="spacingAndGlyphs" >Time (s)</text>
<rect x="218.0" y="245.9" width="121.8" height="144.9" fill="#fff" stroke="#e59af8" stroke-width="1.6"/>
<rect x="217.2" y="245.1" width="123.4" height="25.6" fill="#e59af8"/>
<text x="278.9" y="255.4" font-size="7.8" fill="#fff" text-anchor="middle" stroke="#fff" stroke-width="0.15" textLength="93" lengthAdjust="spacingAndGlyphs" >Average LFP power during</text>
<text x="278.9" y="265.5" font-size="7.8" fill="#fff" text-anchor="middle" stroke="#fff" stroke-width="0.15" textLength="98.7" lengthAdjust="spacingAndGlyphs" >double limb support period</text>
<path d="M238.4 377.40H331.8M238.4 362.75H331.8M238.4 348.10H331.8M238.4 333.45H331.8M238.4 318.80H331.8M238.4 304.15H331.8M238.4 289.50H331.8M264.1 272V377.5M306.0 272V377.5" stroke="#ececec" stroke-width="0.6" fill="none"/>
<text x="235.6" y="291.9" font-size="6.9" fill="#333" text-anchor="end" >2</text>
<text x="235.6" y="321.2" font-size="6.9" fill="#333" text-anchor="end" >1</text>
<text x="235.6" y="350.5" font-size="6.9" fill="#333" text-anchor="end" >0</text>
<text x="235.6" y="379.8" font-size="6.9" fill="#333" text-anchor="end" >-1</text>
<line x1="264.1" y1="310.6" x2="264.1" y2="374.8" stroke="#b4b4b4" stroke-width="1.1"/>
<rect x="255.3" y="334.4" width="17.5" height="16.4" fill="#f2c8c8" stroke="#8a8a8a" stroke-width="0.7"/>
<line x1="255.3" y1="343.0" x2="272.8" y2="343.0" stroke="#555" stroke-width="0.9"/>
<line x1="306.0" y1="349.4" x2="306.0" y2="375.8" stroke="#b4b4b4" stroke-width="1.1"/>
<rect x="297.4" y="355.4" width="17.6" height="9.4" fill="#c9f5c9" stroke="#8a8a8a" stroke-width="0.7"/>
<line x1="297.4" y1="359.4" x2="315.0" y2="359.4" stroke="#555" stroke-width="0.9"/>
<g fill="#ec7474" fill-opacity="0.5"><circle cx="265.3" cy="346.6" r="1.2"/><circle cx="267.1" cy="350.0" r="1.2"/><circle cx="266.5" cy="349.7" r="1.2"/><circle cx="259.4" cy="341.9" r="1.2"/><circle cx="268.5" cy="345.0" r="1.2"/><circle cx="268.1" cy="335.9" r="1.2"/><circle cx="263.8" cy="338.2" r="1.2"/><circle cx="264.5" cy="343.8" r="1.2"/><circle cx="259.2" cy="337.7" r="1.2"/><circle cx="261.9" cy="349.6" r="1.2"/><circle cx="266.8" cy="336.7" r="1.2"/><circle cx="267.1" cy="336.4" r="1.2"/><circle cx="265.3" cy="336.2" r="1.2"/><circle cx="259.1" cy="348.8" r="1.2"/><circle cx="261.2" cy="337.7" r="1.2"/><circle cx="268.9" cy="348.8" r="1.2"/><circle cx="262.0" cy="350.3" r="1.2"/><circle cx="264.5" cy="345.5" r="1.2"/><circle cx="261.1" cy="350.0" r="1.2"/><circle cx="266.0" cy="350.4" r="1.2"/><circle cx="268.0" cy="339.1" r="1.2"/><circle cx="262.7" cy="336.8" r="1.2"/><circle cx="260.6" cy="335.1" r="1.2"/><circle cx="262.1" cy="344.3" r="1.2"/><circle cx="259.1" cy="345.5" r="1.2"/><circle cx="262.5" cy="339.3" r="1.2"/><circle cx="267.3" cy="342.2" r="1.2"/><circle cx="262.3" cy="342.2" r="1.2"/><circle cx="266.1" cy="335.0" r="1.2"/><circle cx="268.9" cy="334.4" r="1.2"/><circle cx="266.6" cy="348.4" r="1.2"/><circle cx="259.3" cy="347.4" r="1.2"/><circle cx="262.8" cy="343.8" r="1.2"/><circle cx="259.2" cy="334.8" r="1.2"/><circle cx="260.9" cy="350.2" r="1.2"/><circle cx="261.1" cy="346.8" r="1.2"/><circle cx="268.4" cy="350.0" r="1.2"/><circle cx="262.5" cy="340.0" r="1.2"/><circle cx="264.3" cy="347.2" r="1.2"/><circle cx="260.2" cy="346.7" r="1.2"/><circle cx="267.1" cy="331.8" r="1.2"/><circle cx="259.5" cy="333.1" r="1.2"/><circle cx="260.0" cy="323.5" r="1.2"/><circle cx="265.2" cy="332.7" r="1.2"/><circle cx="262.5" cy="332.8" r="1.2"/><circle cx="264.6" cy="323.0" r="1.2"/><circle cx="262.3" cy="320.8" r="1.2"/><circle cx="259.9" cy="320.4" r="1.2"/><circle cx="266.0" cy="333.9" r="1.2"/><circle cx="260.7" cy="318.8" r="1.2"/><circle cx="269.0" cy="326.5" r="1.2"/><circle cx="263.2" cy="321.8" r="1.2"/><circle cx="265.0" cy="331.2" r="1.2"/><circle cx="263.7" cy="324.7" r="1.2"/><circle cx="259.7" cy="364.7" r="1.2"/><circle cx="259.4" cy="358.4" r="1.2"/><circle cx="267.5" cy="353.0" r="1.2"/><circle cx="266.4" cy="365.2" r="1.2"/><circle cx="265.4" cy="362.8" r="1.2"/><circle cx="260.2" cy="357.5" r="1.2"/><circle cx="260.6" cy="363.7" r="1.2"/><circle cx="262.0" cy="357.8" r="1.2"/><circle cx="269.1" cy="363.8" r="1.2"/><circle cx="268.9" cy="357.8" r="1.2"/><circle cx="260.0" cy="280.1" r="1.2"/><circle cx="260.5" cy="293.2" r="1.2"/><circle cx="265.4" cy="305.4" r="1.2"/><circle cx="267.9" cy="305.4" r="1.2"/><circle cx="262.2" cy="312.2" r="1.2"/><circle cx="264.0" cy="313.0" r="1.2"/><circle cx="266.8" cy="369.5" r="1.2"/><circle cx="266.8" cy="374.9" r="1.2"/><circle cx="265.4" cy="364.0" r="1.2"/></g>
<g fill="#38dcc8" fill-opacity="0.55"><circle cx="308.9" cy="363.2" r="1.2"/><circle cx="305.9" cy="357.6" r="1.2"/><circle cx="301.0" cy="361.6" r="1.2"/><circle cx="305.7" cy="362.6" r="1.2"/><circle cx="304.7" cy="362.7" r="1.2"/><circle cx="303.7" cy="363.0" r="1.2"/><circle cx="308.3" cy="359.1" r="1.2"/><circle cx="306.4" cy="361.8" r="1.2"/><circle cx="302.9" cy="360.5" r="1.2"/><circle cx="309.1" cy="357.7" r="1.2"/><circle cx="309.0" cy="361.9" r="1.2"/><circle cx="309.4" cy="358.4" r="1.2"/><circle cx="301.9" cy="363.0" r="1.2"/><circle cx="309.0" cy="359.5" r="1.2"/><circle cx="301.9" cy="357.0" r="1.2"/><circle cx="307.3" cy="357.9" r="1.2"/><circle cx="310.5" cy="360.9" r="1.2"/><circle cx="303.0" cy="361.6" r="1.2"/><circle cx="304.6" cy="364.3" r="1.2"/><circle cx="310.1" cy="360.1" r="1.2"/><circle cx="307.4" cy="362.0" r="1.2"/><circle cx="309.1" cy="364.8" r="1.2"/><circle cx="301.3" cy="358.6" r="1.2"/><circle cx="307.0" cy="358.0" r="1.2"/><circle cx="306.9" cy="355.9" r="1.2"/><circle cx="309.8" cy="360.3" r="1.2"/><circle cx="302.2" cy="361.6" r="1.2"/><circle cx="304.1" cy="357.0" r="1.2"/><circle cx="305.8" cy="356.4" r="1.2"/><circle cx="303.1" cy="363.7" r="1.2"/><circle cx="308.0" cy="355.1" r="1.2"/><circle cx="308.8" cy="355.2" r="1.2"/><circle cx="304.3" cy="364.0" r="1.2"/><circle cx="307.2" cy="358.1" r="1.2"/><circle cx="304.8" cy="358.9" r="1.2"/><circle cx="302.3" cy="355.0" r="1.2"/><circle cx="301.5" cy="351.5" r="1.2"/><circle cx="308.5" cy="351.4" r="1.2"/><circle cx="310.8" cy="350.5" r="1.2"/><circle cx="310.8" cy="354.4" r="1.2"/><circle cx="307.7" cy="354.3" r="1.2"/><circle cx="305.5" cy="354.0" r="1.2"/><circle cx="309.0" cy="352.1" r="1.2"/><circle cx="305.7" cy="353.2" r="1.2"/><circle cx="305.1" cy="349.5" r="1.2"/><circle cx="308.5" cy="367.9" r="1.2"/><circle cx="305.9" cy="373.6" r="1.2"/><circle cx="302.7" cy="365.2" r="1.2"/><circle cx="302.2" cy="371.5" r="1.2"/><circle cx="304.6" cy="367.8" r="1.2"/><circle cx="305.5" cy="375.2" r="1.2"/><circle cx="303.5" cy="369.5" r="1.2"/><circle cx="309.8" cy="371.7" r="1.2"/><circle cx="303.7" cy="370.2" r="1.2"/><circle cx="305.8" cy="366.6" r="1.2"/></g>
<line x1="264.2" y1="277.0" x2="306.0" y2="277.0" stroke="#333" stroke-width="0.9"/>
<polygon points="280.50,271.85 281.15,273.41 282.83,273.54 281.55,274.64 281.94,276.28 280.50,275.40 279.06,276.28 279.45,274.64 278.17,273.54 279.85,273.41" fill="#1a1a1a"/>
<polygon points="285.00,271.85 285.65,273.41 287.33,273.54 286.05,274.64 286.44,276.28 285.00,275.40 283.56,276.28 283.95,274.64 282.67,273.54 284.35,273.41" fill="#1a1a1a"/>
<polygon points="289.50,271.85 290.15,273.41 291.83,273.54 290.55,274.64 290.94,276.28 289.50,275.40 288.06,276.28 288.45,274.64 287.17,273.54 288.85,273.41" fill="#1a1a1a"/>
<text x="284.2" y="284.6" font-size="6.1" fill="#555" text-anchor="middle" textLength="27.4" lengthAdjust="spacingAndGlyphs" >P &lt; 0.0001</text>
<text x="266.0" y="384.9" font-size="7.2" fill="#333" text-anchor="middle" textLength="26.9" lengthAdjust="spacingAndGlyphs" >Low WPI</text>
<text x="308.4" y="384.9" font-size="7.2" fill="#333" text-anchor="middle" textLength="28.3" lengthAdjust="spacingAndGlyphs" >High WPI</text>
<rect x="353.3" y="245.9" width="121.0" height="144.9" fill="#fff" stroke="#7030a0" stroke-width="1.6"/>
<rect x="352.5" y="245.1" width="122.6" height="25.6" fill="#7030a0"/>
<text x="413.8" y="255.4" font-size="7.8" fill="#fff" text-anchor="middle" stroke="#fff" stroke-width="0.15" textLength="93" lengthAdjust="spacingAndGlyphs" >Average LFP power during</text>
<text x="413.8" y="265.5" font-size="7.8" fill="#fff" text-anchor="middle" stroke="#fff" stroke-width="0.15" textLength="71.1" lengthAdjust="spacingAndGlyphs" >Ipsilateral leg swing</text>
<path d="M378.6 379.29H467.5M378.6 366.34H467.5M378.6 353.40H467.5M378.6 340.45H467.5M378.6 327.51H467.5M378.6 314.56H467.5M378.6 301.62H467.5M378.6 288.67H467.5M378.6 275.73H467.5M403.6 272V377.5M444.1 272V377.5" stroke="#ececec" stroke-width="0.6" fill="none"/>
<text x="376.4" y="278.12999999999994" font-size="6.9" fill="#333" text-anchor="end" textLength="8.8" lengthAdjust="spacingAndGlyphs" >0.9</text>
<text x="376.4" y="304.02" font-size="6.9" fill="#333" text-anchor="end" textLength="8.8" lengthAdjust="spacingAndGlyphs" >0.6</text>
<text x="376.4" y="329.90999999999997" font-size="6.9" fill="#333" text-anchor="end" textLength="8.8" lengthAdjust="spacingAndGlyphs" >0.3</text>
<text x="376.4" y="355.79999999999995" font-size="6.9" fill="#333" text-anchor="end" textLength="8.8" lengthAdjust="spacingAndGlyphs" >0.0</text>
<text x="376.4" y="381.68999999999994" font-size="6.9" fill="#333" text-anchor="end" textLength="10.4" lengthAdjust="spacingAndGlyphs" >-0.3</text>
<line x1="403.6" y1="280.0" x2="403.6" y2="373.0" stroke="#b4b4b4" stroke-width="1.1"/>
<rect x="395.2" y="307.8" width="16.4" height="37.6" fill="#f2c8c8" stroke="#8a8a8a" stroke-width="0.7"/>
<line x1="395.2" y1="326.4" x2="411.6" y2="326.4" stroke="#555" stroke-width="0.9"/>
<line x1="444.1" y1="335.3" x2="444.1" y2="376.5" stroke="#b4b4b4" stroke-width="1.1"/>
<rect x="435.4" y="355.3" width="16.2" height="15.3" fill="#c9f5c9" stroke="#8a8a8a" stroke-width="0.7"/>
<line x1="435.4" y1="362.4" x2="451.6" y2="362.4" stroke="#555" stroke-width="0.9"/>
<g fill="#ec7474" fill-opacity="0.5"><circle cx="402.5" cy="312.9" r="1.2"/><circle cx="405.3" cy="309.8" r="1.2"/><circle cx="404.3" cy="321.3" r="1.2"/><circle cx="400.3" cy="326.8" r="1.2"/><circle cx="400.1" cy="323.9" r="1.2"/><circle cx="400.4" cy="310.5" r="1.2"/><circle cx="403.4" cy="339.2" r="1.2"/><circle cx="400.8" cy="315.7" r="1.2"/><circle cx="405.1" cy="344.0" r="1.2"/><circle cx="404.6" cy="322.5" r="1.2"/><circle cx="408.0" cy="308.8" r="1.2"/><circle cx="407.0" cy="318.3" r="1.2"/><circle cx="401.0" cy="311.6" r="1.2"/><circle cx="402.4" cy="338.8" r="1.2"/><circle cx="401.3" cy="329.7" r="1.2"/><circle cx="405.2" cy="321.5" r="1.2"/><circle cx="404.4" cy="309.4" r="1.2"/><circle cx="400.3" cy="315.0" r="1.2"/><circle cx="405.5" cy="323.7" r="1.2"/><circle cx="402.4" cy="329.8" r="1.2"/><circle cx="403.6" cy="318.7" r="1.2"/><circle cx="406.5" cy="334.3" r="1.2"/><circle cx="401.9" cy="329.4" r="1.2"/><circle cx="404.2" cy="341.1" r="1.2"/><circle cx="405.9" cy="318.2" r="1.2"/><circle cx="408.0" cy="311.6" r="1.2"/><circle cx="403.3" cy="336.5" r="1.2"/><circle cx="401.1" cy="326.1" r="1.2"/><circle cx="400.1" cy="333.1" r="1.2"/><circle cx="406.2" cy="329.3" r="1.2"/><circle cx="407.2" cy="319.2" r="1.2"/><circle cx="405.6" cy="330.2" r="1.2"/><circle cx="404.7" cy="324.8" r="1.2"/><circle cx="406.9" cy="343.8" r="1.2"/><circle cx="403.8" cy="332.9" r="1.2"/><circle cx="400.3" cy="334.4" r="1.2"/><circle cx="405.2" cy="345.7" r="1.2"/><circle cx="406.7" cy="318.1" r="1.2"/><circle cx="403.0" cy="298.4" r="1.2"/><circle cx="400.0" cy="293.0" r="1.2"/><circle cx="401.2" cy="284.0" r="1.2"/><circle cx="400.3" cy="301.0" r="1.2"/><circle cx="400.9" cy="287.4" r="1.2"/><circle cx="403.1" cy="303.7" r="1.2"/><circle cx="400.5" cy="292.7" r="1.2"/><circle cx="404.4" cy="304.0" r="1.2"/><circle cx="406.7" cy="303.5" r="1.2"/><circle cx="402.1" cy="291.8" r="1.2"/><circle cx="402.8" cy="304.0" r="1.2"/><circle cx="407.8" cy="284.9" r="1.2"/><circle cx="401.3" cy="287.0" r="1.2"/><circle cx="401.8" cy="293.6" r="1.2"/><circle cx="404.7" cy="353.4" r="1.2"/><circle cx="399.8" cy="357.7" r="1.2"/><circle cx="402.9" cy="361.9" r="1.2"/><circle cx="407.8" cy="365.3" r="1.2"/><circle cx="404.1" cy="363.3" r="1.2"/><circle cx="405.5" cy="347.5" r="1.2"/><circle cx="407.4" cy="367.8" r="1.2"/><circle cx="407.1" cy="368.3" r="1.2"/><circle cx="403.1" cy="357.2" r="1.2"/><circle cx="400.7" cy="363.8" r="1.2"/><circle cx="400.3" cy="347.9" r="1.2"/><circle cx="401.6" cy="350.5" r="1.2"/><circle cx="402.7" cy="347.5" r="1.2"/><circle cx="399.8" cy="350.2" r="1.2"/><circle cx="400.7" cy="356.2" r="1.2"/><circle cx="400.0" cy="370.5" r="1.2"/><circle cx="405.0" cy="350.2" r="1.2"/><circle cx="401.9" cy="355.7" r="1.2"/><circle cx="403.5" cy="281.0" r="1.2"/><circle cx="404.6" cy="283.6" r="1.2"/><circle cx="406.5" cy="286.5" r="1.2"/></g>
<g fill="#38dcc8" fill-opacity="0.55"><circle cx="440.0" cy="370.4" r="1.2"/><circle cx="439.2" cy="366.3" r="1.2"/><circle cx="438.8" cy="359.0" r="1.2"/><circle cx="446.7" cy="358.4" r="1.2"/><circle cx="443.6" cy="362.3" r="1.2"/><circle cx="442.0" cy="362.9" r="1.2"/><circle cx="439.8" cy="368.3" r="1.2"/><circle cx="438.9" cy="358.7" r="1.2"/><circle cx="438.3" cy="359.3" r="1.2"/><circle cx="441.6" cy="369.4" r="1.2"/><circle cx="441.4" cy="356.8" r="1.2"/><circle cx="440.3" cy="370.9" r="1.2"/><circle cx="438.6" cy="364.9" r="1.2"/><circle cx="441.3" cy="365.6" r="1.2"/><circle cx="441.0" cy="366.1" r="1.2"/><circle cx="442.4" cy="365.4" r="1.2"/><circle cx="445.9" cy="364.3" r="1.2"/><circle cx="439.3" cy="356.0" r="1.2"/><circle cx="446.2" cy="362.8" r="1.2"/><circle cx="439.8" cy="370.1" r="1.2"/><circle cx="443.1" cy="366.7" r="1.2"/><circle cx="445.7" cy="359.6" r="1.2"/><circle cx="441.2" cy="369.0" r="1.2"/><circle cx="439.3" cy="367.2" r="1.2"/><circle cx="438.9" cy="366.0" r="1.2"/><circle cx="444.1" cy="370.2" r="1.2"/><circle cx="445.4" cy="363.1" r="1.2"/><circle cx="439.8" cy="357.4" r="1.2"/><circle cx="442.6" cy="363.2" r="1.2"/><circle cx="438.7" cy="369.5" r="1.2"/><circle cx="442.5" cy="366.2" r="1.2"/><circle cx="440.0" cy="358.9" r="1.2"/><circle cx="438.2" cy="337.9" r="1.2"/><circle cx="440.4" cy="340.0" r="1.2"/><circle cx="441.3" cy="350.7" r="1.2"/><circle cx="445.8" cy="333.6" r="1.2"/><circle cx="441.5" cy="333.3" r="1.2"/><circle cx="443.8" cy="354.3" r="1.2"/><circle cx="439.8" cy="348.9" r="1.2"/><circle cx="440.7" cy="329.3" r="1.2"/><circle cx="444.7" cy="337.9" r="1.2"/><circle cx="439.6" cy="340.3" r="1.2"/><circle cx="440.1" cy="373.1" r="1.2"/><circle cx="441.9" cy="373.1" r="1.2"/><circle cx="443.2" cy="372.4" r="1.2"/><circle cx="438.9" cy="371.4" r="1.2"/><circle cx="439.0" cy="373.6" r="1.2"/><circle cx="441.2" cy="375.0" r="1.2"/><circle cx="442.4" cy="374.5" r="1.2"/><circle cx="446.5" cy="371.3" r="1.2"/><circle cx="438.2" cy="371.7" r="1.2"/><circle cx="441.4" cy="373.9" r="1.2"/></g>
<line x1="403.1" y1="277.3" x2="443.2" y2="277.3" stroke="#333" stroke-width="0.9"/>
<polygon points="418.50,272.15 419.15,273.71 420.83,273.84 419.55,274.94 419.94,276.58 418.50,275.70 417.06,276.58 417.45,274.94 416.17,273.84 417.85,273.71" fill="#1a1a1a"/>
<polygon points="423.00,272.15 423.65,273.71 425.33,273.84 424.05,274.94 424.44,276.58 423.00,275.70 421.56,276.58 421.95,274.94 420.67,273.84 422.35,273.71" fill="#1a1a1a"/>
<polygon points="427.50,272.15 428.15,273.71 429.83,273.84 428.55,274.94 428.94,276.58 427.50,275.70 426.06,276.58 426.45,274.94 425.17,273.84 426.85,273.71" fill="#1a1a1a"/>
<text x="422.2" y="284.6" font-size="6.1" fill="#555" text-anchor="middle" textLength="27.4" lengthAdjust="spacingAndGlyphs" >P &lt; 0.0001</text>
<text x="401.2" y="384.9" font-size="7.2" fill="#333" text-anchor="middle" textLength="26.9" lengthAdjust="spacingAndGlyphs" >Low WPI</text>
<text x="442.9" y="384.9" font-size="7.2" fill="#333" text-anchor="middle" textLength="28.3" lengthAdjust="spacingAndGlyphs" >High WPI</text>
</svg>
</body></html>
